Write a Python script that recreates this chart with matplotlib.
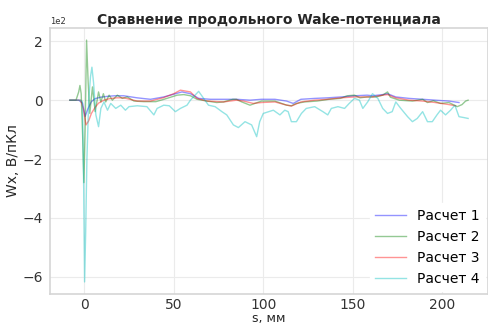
import numpy as np
import matplotlib
matplotlib.use("Agg")
import matplotlib.pyplot as plt

# ── data (s in mm, W in V/pC) ────────────────────────────────────────────────
s1 = [-8, -3, -1, 0.5, 2, 4, 6, 9, 13, 17, 22, 29.5, 37, 44.4, 51, 54.6, 59.3, 64,
      70.4, 77.8, 85, 92.6, 99, 106.5, 113, 116.7, 121, 128.7, 136, 143.5, 151,
      158, 161, 166.7, 169.4, 174, 181.5, 189, 196, 203.7, 209.3]
w1 = [0, 0, -10, -55, -30, -5, 5, 10, 13, 15, 15, 8, 3, 11, 22, 28, 22, 6,
      3, 3, 3, 0, 3, 3, -3, -11, 3, 6, 8, 11, 15,
      17, 15, 19, 22, 11, 6, 3, 0, -3, -8]

s2 = [-8, -4.6, -3.1, -2.4, -1.7, -0.9, -0.2, 0.5, 1.3, 2.2, 3.1, 4.6, 6.1, 8, 9.3,
      10.7, 12, 13.9, 15.7, 18.5, 21.3, 24, 27.8, 33.3, 40, 44, 51.9, 55.6, 59.3,
      63, 68.5, 74, 77.8, 83, 85, 88, 92.6, 99, 106.5, 113, 115.7, 118.5, 123,
      130, 136.7, 143, 147, 151, 154, 158, 163, 166.7, 169.4, 171, 176, 183.3,
      189, 191.7, 195, 199, 203.7, 208.3, 211, 213, 214.4]
w2 = [0, 0, 28, 50, 22, -120, -280, -100, 204, 60, -45, 45, -39, 28, -6,
      22, -6, 17, 0, 17, 6, 11, -3, -5, -5, 2, 17, 19, 15,
      3, -3, -8, -6, 3, 3, -6, -17, -3, -3, -17, -19, -11, -6,
      -3, 3, 6, 15, 17, 8, 11, 11, 17, 28, 10, 0, -3,
      3, -8, -2, -11, -8, -22, -15, -3, 0]

s3 = [-8, -2, -0.5, 1, 2.5, 4, 6, 8, 11, 14, 18, 22, 29.6, 37, 44, 50, 53.7, 59.3,
      63, 68.5, 77.8, 85, 89, 94.4, 99, 106.5, 112, 115.7, 121, 128.7, 136,
      143.5, 151, 158, 161, 166.7, 169.4, 174, 181.5, 189, 196, 203.7, 207.4]
w3 = [0, 0, -30, -84, -70, -45, -25, -10, 0, 5, 8, 8, -3, -3, 8, 22, 34, 28,
      6, -3, -6, 0, -3, -11, -8, -6, -15, -20, -6, 0, 3,
      8, 11, 11, 11, 17, 19, 8, 0, -3, -8, -15, -19]

s4 = [-8, -2, -1, -0.3, 0.2, 0.8, 1.5, 2.5, 3.5, 4.3, 5.2, 6.5, 8, 9.3, 11, 13,
      14.8, 17.6, 20.4, 23, 25, 29.6, 35, 38.9, 40.7, 44.4, 47.5, 50.9, 53.7,
      57.4, 59.3, 63.9, 66.7, 69.4, 73.1, 76.9, 79.6, 83.3, 86.1, 89.8, 93.5,
      96.3, 98, 100, 105.6, 109.3, 112, 113.9, 115.7, 118.5, 121.3, 124, 128.7,
      133.3, 136, 138, 141.7, 145.4, 148, 151, 153.7, 155.6, 158.3, 161, 164,
      166.7, 169.4, 172, 174, 176.8, 180.6, 183.3, 186, 189, 191.7, 194.4, 197,
      199, 201.8, 204.6, 207, 209.3, 212, 214.4]
w4 = [0, 0, -5, -300, -617, -450, -200, 0, 80, 112, 60, -50, -90, -28, -6, -34,
      -11, -28, -17, -34, -22, -19, -22, -50, -28, -17, -19, -39, -28,
      -17, 0, 30, 6, -17, -22, -39, -50, -84, -93, -73, -84,
      -124, -73, -45, -34, -50, -34, -39, -73, -73, -45, -28, -22,
      -39, -50, -28, -22, -28, -11, 6, 0, -28, -6, 22, 6,
      -28, -45, -39, -6, -28, -56, -73, -62, -39, -73, -73, -50,
      -34, -50, -34, -17, -56, -59, -62]

series = [(s1, w1, 'b', 'Расчет 1'), (s2, w2, 'g', 'Расчет 2'),
          (s3, w3, 'r', 'Расчет 3'), (s4, w4, 'c', 'Расчет 4')]

# ── figure ───────────────────────────────────────────────────────────────────
plt.rcParams['font.family'] = 'DejaVu Sans'
fig, ax = plt.subplots(figsize=(4.89, 3.25), dpi=100)
fig.subplots_adjust(left=50/489, right=0.998, top=1 - 28/325, bottom=1 - 294/325)

for s, w, col, lbl in series:
    ax.plot(s, w, color=col, alpha=0.42, linewidth=1.0, label=lbl)

ax.ticklabel_format(axis='y', style='sci', scilimits=(0, 0))
ax.yaxis.get_offset_text().set_fontsize(6)
ax.yaxis.get_offset_text().set_color('#333333')

ax.set_title("Сравнение продольного Wake-потенциала", fontsize=10,
             fontweight='bold', color='#262626', pad=3)
ax.set_xlabel("s, мм", fontsize=9, color='#262626', labelpad=0)
ax.set_ylabel("Wx, В/пКл", fontsize=10, color='#262626', labelpad=2)
ax.tick_params(labelsize=10, colors='#333333', length=0, pad=5)
ax.tick_params(axis='x', pad=3)

ax.grid(True, color='#ebebeb', linewidth=0.8)
ax.set_axisbelow(True)
for sp in ax.spines.values():
    sp.set_color('#d5d5d5')
    sp.set_linewidth(1.2)

leg = ax.legend(loc='lower right', fontsize=10, frameon=True, framealpha=1,
                edgecolor='white', handlelength=2.2, borderaxespad=0.2)

fig.savefig('out.png', dpi=100)
